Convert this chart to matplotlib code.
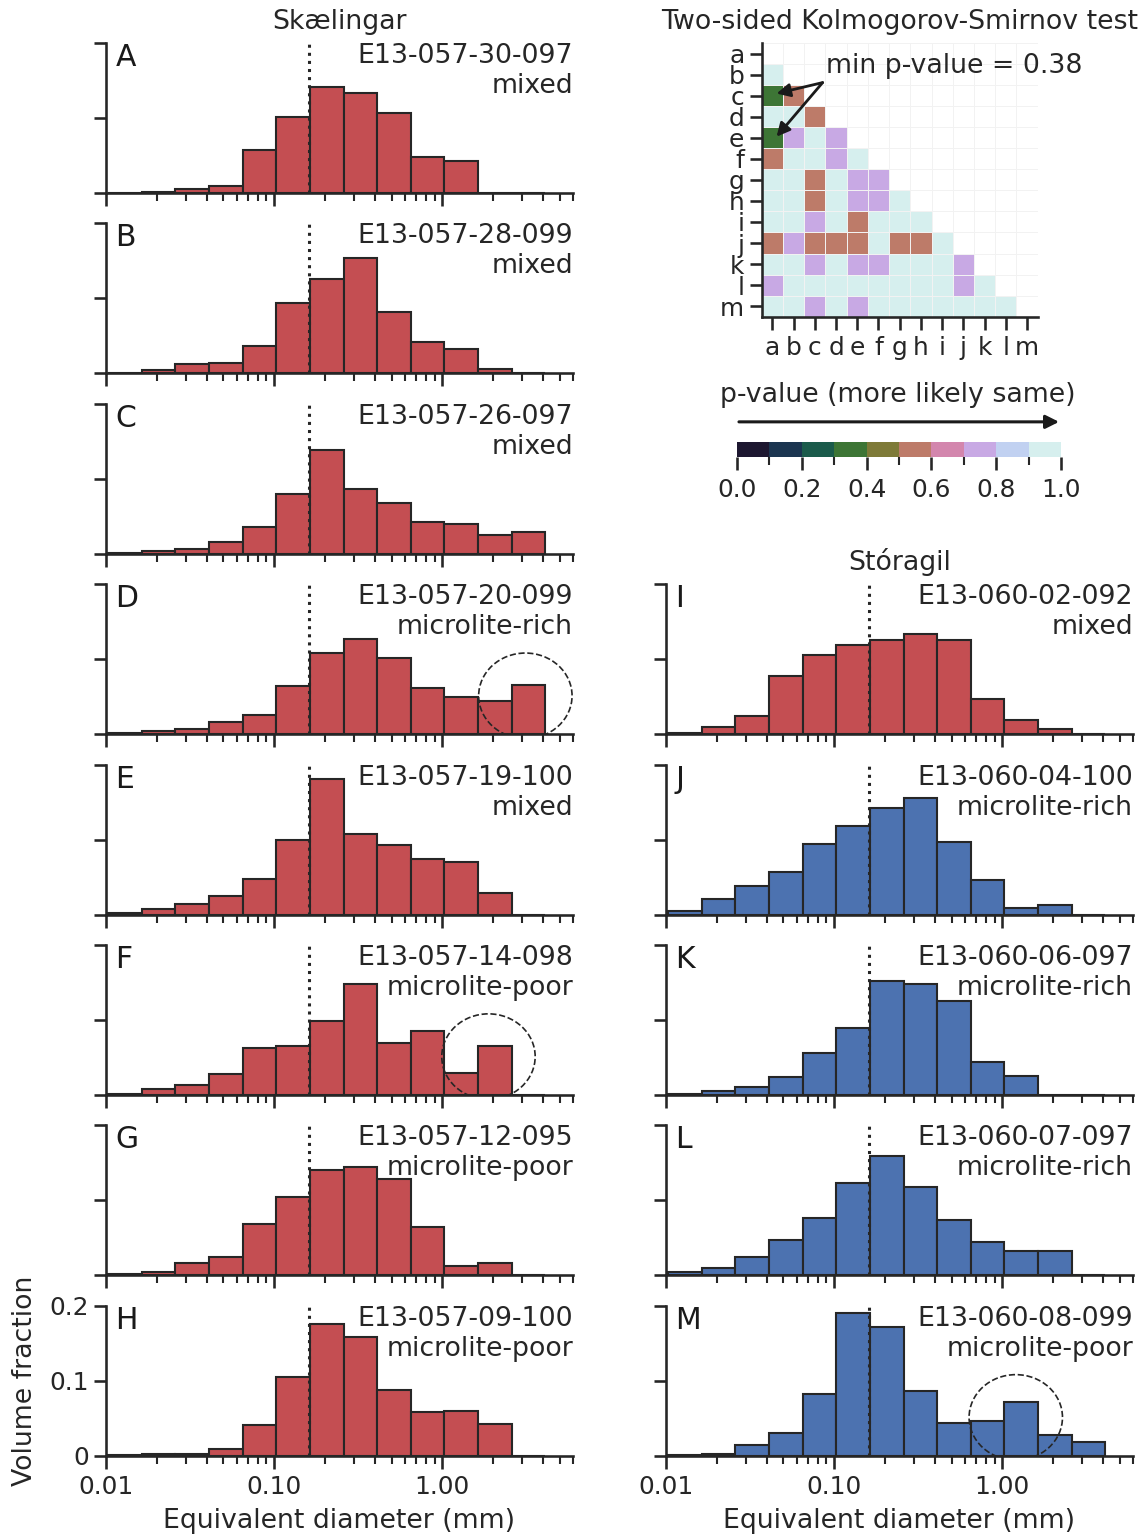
import numpy as np
import matplotlib
matplotlib.use('Agg')
import matplotlib.pyplot as plt
import seaborn as sns
from matplotlib.colors import ListedColormap, BoundaryNorm
from matplotlib.cm import ScalarMappable
from matplotlib.patches import Ellipse
from matplotlib.ticker import NullFormatter, LogLocator

sns.set_theme(style='ticks', context='talk')
plt.rcParams['font.family'] = ['DejaVu Sans']
plt.rcParams['xtick.labelsize'] = 17.9
plt.rcParams['ytick.labelsize'] = 17.9

RED = '#c44e52'
BLUE = '#4c72b0'
DARK = '#262626'
FS = 19.3
W, H = 1148, 1537

# histogram bins (log spaced, mm)
bin_edges = [0.0103, 0.0163, 0.0259, 0.0411, 0.0651, 0.1032, 0.1636, 0.259,
             0.411, 0.651, 1.032, 1.636, 2.59, 4.11]
split_size = 0.162   # dotted line

# volume fraction per bin
vol_A = [0.0005, 0.002, 0.006, 0.009, 0.057, 0.102, 0.142, 0.133, 0.107, 0.048, 0.043, 0, 0]
vol_B = [0.001, 0.005, 0.012, 0.014, 0.036, 0.094, 0.126, 0.154, 0.082, 0.042, 0.032, 0.006, 0]
vol_C = [0.0005, 0.004, 0.007, 0.016, 0.036, 0.080, 0.138, 0.086, 0.068, 0.042, 0.040, 0.025, 0.029]
vol_D = [0.001, 0.004, 0.007, 0.016, 0.026, 0.064, 0.108, 0.127, 0.101, 0.062, 0.049, 0.044, 0.066]
vol_E = [0.002, 0.007, 0.014, 0.025, 0.048, 0.100, 0.181, 0.108, 0.093, 0.074, 0.070, 0.029, 0]
vol_F = [0.002, 0.008, 0.014, 0.028, 0.063, 0.065, 0.099, 0.148, 0.070, 0.085, 0.029, 0.065, 0]
vol_G = [0.002, 0.005, 0.017, 0.025, 0.069, 0.104, 0.140, 0.145, 0.128, 0.064, 0.012, 0.016, 0]
vol_H = [0.001, 0.002, 0.003, 0.009, 0.041, 0.105, 0.176, 0.158, 0.088, 0.058, 0.060, 0.042, 0]
vol_I = [0.001, 0.009, 0.024, 0.077, 0.106, 0.119, 0.126, 0.133, 0.126, 0.047, 0.019, 0.007, 0]
vol_J = [0.005, 0.021, 0.038, 0.057, 0.094, 0.118, 0.142, 0.156, 0.097, 0.046, 0.009, 0.013, 0]
vol_K = [0.002, 0.005, 0.011, 0.024, 0.056, 0.090, 0.152, 0.148, 0.125, 0.044, 0.026, 0, 0]
vol_L = [0.004, 0.010, 0.024, 0.047, 0.076, 0.123, 0.159, 0.118, 0.074, 0.044, 0.033, 0.032, 0]
vol_M = [0.001, 0.003, 0.014, 0.031, 0.082, 0.190, 0.172, 0.086, 0.044, 0.047, 0.072, 0.028, 0.018]

letters = ['A', 'B', 'C', 'D', 'E', 'F', 'G', 'H', 'I', 'J', 'K', 'L', 'M']
samples = ['E13-057-30-097', 'E13-057-28-099', 'E13-057-26-097', 'E13-057-20-099',
           'E13-057-19-100', 'E13-057-14-098', 'E13-057-12-095', 'E13-057-09-100',
           'E13-060-02-092', 'E13-060-04-100', 'E13-060-06-097', 'E13-060-07-097',
           'E13-060-08-099']
textures = ['mixed', 'mixed', 'mixed', 'microlite-rich', 'mixed', 'microlite-poor',
            'microlite-poor', 'microlite-poor', 'mixed', 'microlite-rich',
            'microlite-rich', 'microlite-rich', 'microlite-poor']
volumes = [vol_A, vol_B, vol_C, vol_D, vol_E, vol_F, vol_G, vol_H,
           vol_I, vol_J, vol_K, vol_L, vol_M]
colors = [RED] * 9 + [BLUE] * 4
circled = {'D': 0.898, 'F': 0.819, 'M': 0.749}

# KS test p-values, lower triangle (row b..m vs columns a..)
ks_labels = list('abcdefghijklm')
ks_rows = [
    [0.95],
    [0.38, 0.55],
    [0.95, 0.95, 0.55],
    [0.39, 0.75, 0.95, 0.75],
    [0.55, 0.95, 0.95, 0.75, 0.95],
    [0.95, 0.95, 0.55, 0.95, 0.75, 0.75],
    [0.95, 0.95, 0.55, 0.95, 0.75, 0.75, 0.95],
    [0.95, 0.95, 0.75, 0.95, 0.55, 0.95, 0.95, 0.95],
    [0.55, 0.75, 0.55, 0.55, 0.55, 0.95, 0.55, 0.55, 0.95],
    [0.95, 0.95, 0.75, 0.95, 0.75, 0.75, 0.95, 0.95, 0.95, 0.75],
    [0.75, 0.95, 0.95, 0.95, 0.95, 0.95, 0.95, 0.95, 0.95, 0.75, 0.95],
    [0.95, 0.95, 0.75, 0.95, 0.75, 0.95, 0.95, 0.95, 0.95, 0.95, 0.95, 0.95],
]
cmap_colors = ['#1d1730', '#1b3550', '#1b5b4b', '#3d7535', '#7e7a38',
               '#bd7b69', '#d386ad', '#c8a9e4', '#c1d1f1', '#d6efee']


def add_px_axes(fig, left, top, width, height):
    return fig.add_axes([left / W, 1 - (top + height) / H, width / W, height / H])


fig = plt.figure(figsize=(W / 100, H / 100), dpi=100)

row_top = lambda i: 43 + 180.4 * i
positions = [(106, i) for i in range(8)] + [(666, i) for i in range(3, 8)]

axes = {}
for k, (left, row) in enumerate(positions):
    ax = add_px_axes(fig, left, row_top(row), 467, 150)
    axes[letters[k]] = ax
    edges = np.array(bin_edges)
    ax.bar(edges[:-1], volumes[k], width=np.diff(edges), align='edge',
           color=colors[k], edgecolor=DARK, linewidth=1.5, zorder=2)
    ax.set_xscale('log')
    ax.set_xlim(0.01, 6.0)
    ax.set_ylim(0, 0.2)
    ax.set_xticks([0.01, 0.1, 1.0])
    ax.xaxis.set_minor_locator(LogLocator(base=10, subs=np.arange(2, 10)))
    ax.xaxis.set_minor_formatter(NullFormatter())
    ax.set_yticks([0, 0.1, 0.2])
    ax.axvline(split_size, ls=':', color=DARK, lw=2.2, zorder=3)
    ax.text(0.02, 1.0, letters[k], transform=ax.transAxes, ha='left', va='top',
            fontsize=21.5, color='k')
    ax.text(1.0, 1.0, samples[k] + '\n' + textures[k], transform=ax.transAxes,
            ha='right', va='top', fontsize=FS, color=DARK, linespacing=1.2)
    if letters[k] in circled:
        ax.add_patch(Ellipse((circled[letters[k]], 0.256), 0.2, 0.57,
                             transform=ax.transAxes, fill=False, ls='--',
                             lw=1.2, ec=DARK, zorder=4))
    if row == 7:
        ax.set_xticklabels(['0.01', '0.10', '1.00'])
        ax.tick_params(axis='x', which='major', pad=5)
        ax.set_xlabel('Equivalent diameter (mm)', fontsize=FS, labelpad=6)
    else:
        ax.tick_params(axis='x', labelbottom=False)
    if letters[k] == 'H':
        ax.set_yticklabels(['0', '0.1', '0.2'])
        ax.set_ylabel('Volume fraction', fontsize=FS, labelpad=8)
    else:
        ax.tick_params(axis='y', labelleft=False)
    sns.despine(ax=ax)

axes['A'].set_title('Skælingar', fontsize=FS, pad=10)
axes['I'].set_title('Stóragil', fontsize=FS, pad=10)

# KS matrix
n = len(ks_labels)
mat = np.full((n, n), np.nan)
for i, row in enumerate(ks_rows):
    mat[i + 1, :len(row)] = row
cmap = ListedColormap(cmap_colors)
norm = BoundaryNorm(np.linspace(0, 1, 11), cmap.N)

mx = add_px_axes(fig, 761.7, 43, 276, 273.7)
edges_m = np.arange(n + 1) - 0.5
mx.pcolormesh(edges_m, edges_m, np.ma.masked_invalid(mat), cmap=cmap, norm=norm,
              edgecolors='#f2f2f2', linewidth=0.5)
mx.set_xlim(-0.5, n - 0.5)
mx.set_ylim(n - 0.5, -0.5)
mx.set_xticks(range(n))
mx.set_xticklabels(ks_labels)
mx.set_yticks(range(n))
mx.set_yticklabels(ks_labels)
mx.tick_params(axis='x', pad=5)
sns.despine(ax=mx)
mx.set_title('Two-sided Kolmogorov-Smirnov test', fontsize=FS, pad=10)
mx.text(2.55, 0.6, 'min p-value = 0.38', fontsize=FS, color=DARK,
        ha='left', va='center')
for tip in [(0.2, 1.9), (0.2, 3.95)]:
    mx.annotate('', xy=tip, xytext=(2.37, 1.38),
                arrowprops=dict(arrowstyle='-|>', color='k', lw=2,
                                shrinkA=0, shrinkB=0, mutation_scale=20))

# colour bar
cax = add_px_axes(fig, 737, 442, 324, 15.5)
cb = fig.colorbar(ScalarMappable(norm=norm, cmap=cmap), cax=cax,
                  orientation='horizontal', ticks=np.linspace(0, 1, 6))
cb.outline.set_visible(False)
cb.set_ticklabels(['0.0', '0.2', '0.4', '0.6', '0.8', '1.0'])
cax.tick_params(length=9, width=1.875, labelsize=17.9, pad=6)
cax.annotate('', xy=(0.994, 2.3), xytext=(0.006, 2.3), xycoords='axes fraction',
             textcoords='axes fraction', annotation_clip=False,
             arrowprops=dict(arrowstyle='-|>', color='k', lw=2.2,
                             shrinkA=0, shrinkB=0, mutation_scale=20))
fig.text(898 / W, 1 - 395 / H, 'p-value (more likely same)', fontsize=FS,
         color=DARK, ha='center', va='center')

fig.savefig('out.png', dpi=100)
